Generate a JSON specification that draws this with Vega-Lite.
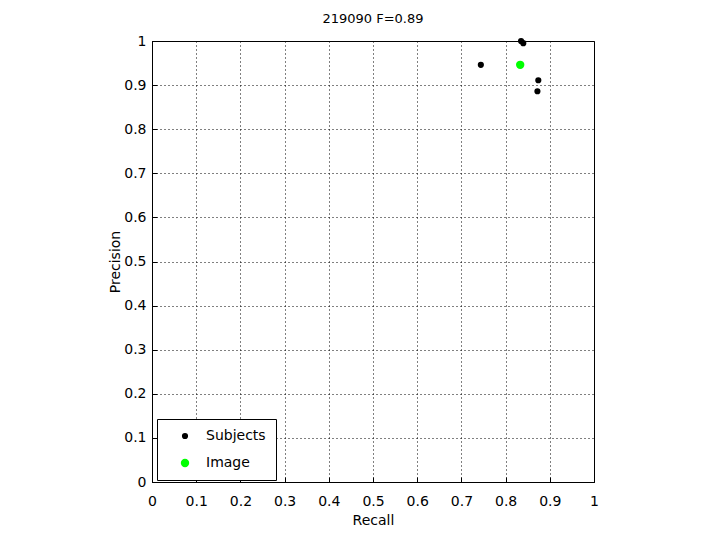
{
  "$schema": "https://vega.github.io/schema/vega-lite/v6.json",
  "width": 442,
  "height": 441,
  "autosize": {"type": "none"},
  "padding": {"left": 152, "top": 41, "right": 126, "bottom": 58},
  "background": "white",
  "title": {"text": "219090 F=0.89", "fontSize": 13, "fontWeight": "normal", "font": "DejaVu Sans", "color": "black", "offset": 8},
  "config": {
    "view": {"stroke": "black", "strokeWidth": 1},
    "axis": {
      "labelFont": "DejaVu Sans", "titleFont": "DejaVu Sans",
      "labelFontSize": 14, "titleFontSize": 14, "titleFontWeight": "normal",
      "labelColor": "black", "titleColor": "black",
      "domainColor": "black", "tickColor": "black",
      "gridColor": "black", "gridDash": [1, 3], "gridOpacity": 1, "gridWidth": 1,
      "tickSize": -5
    }
  },
  "data": {"values": [
    {"recall": 0.744, "precision": 0.946, "series": "Subjects"},
    {"recall": 0.835, "precision": 1.0, "series": "Subjects"},
    {"recall": 0.840, "precision": 0.995, "series": "Subjects"},
    {"recall": 0.874, "precision": 0.911, "series": "Subjects"},
    {"recall": 0.872, "precision": 0.886, "series": "Subjects"},
    {"recall": 0.833, "precision": 0.946, "series": "Image"}
  ]},
  "mark": {"type": "point", "filled": true, "opacity": 1},
  "encoding": {
    "x": {"field": "recall", "type": "quantitative", "title": "Recall",
      "scale": {"domain": [0, 1], "nice": false},
      "axis": {"values": [0,0.1,0.2,0.3,0.4,0.5,0.6,0.7,0.8,0.9,1], "format": "~g", "labelPadding": 17, "titleY": 31, "labelFlush": false}},
    "y": {"field": "precision", "type": "quantitative", "title": "Precision",
      "scale": {"domain": [0, 1], "nice": false},
      "axis": {"values": [0,0.1,0.2,0.3,0.4,0.5,0.6,0.7,0.8,0.9,1], "format": "~g", "labelPadding": 11, "titleX": -30, "labelFlush": false}},
    "color": {"field": "series", "type": "nominal",
      "scale": {"domain": ["Subjects", "Image"], "range": ["black", "#00ff00"]},
      "legend": {"title": null, "orient": "none", "legendX": 5, "legendY": 378,
        "strokeColor": "black", "fillColor": "white", "padding": 10,
        "labelFont": "DejaVu Sans", "labelFontSize": 14, "labelColor": "black",
        "rowPadding": 13, "symbolOffset": 11, "labelOffset": 14, "symbolStrokeWidth": 0}},
    "size": {"field": "series", "type": "nominal",
      "scale": {"domain": ["Subjects", "Image"], "range": [38, 70]},
      "legend": {"title": null, "orient": "none", "legendX": 5, "legendY": 378,
        "strokeColor": "black", "fillColor": "white", "padding": 10,
        "labelFont": "DejaVu Sans", "labelFontSize": 14, "labelColor": "black",
        "rowPadding": 13, "symbolOffset": 11, "labelOffset": 14, "symbolStrokeWidth": 0}}
  }
}
